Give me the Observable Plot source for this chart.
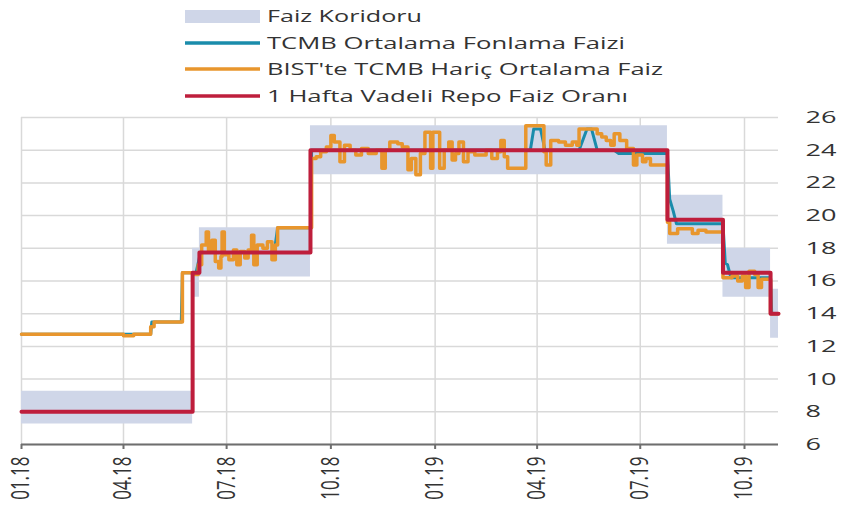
<!DOCTYPE html>
<html><head><meta charset="utf-8">
<script src="https://cdn.jsdelivr.net/npm/d3@7"></script>
<script src="https://cdn.jsdelivr.net/npm/@observablehq/plot@0.6"></script>
<style>
body{margin:0;background:#fff;font-family:"Open Sans",sans-serif;}
svg{display:block}
#chart{position:relative;width:842px;height:506px;}
#plotwrap{position:absolute;left:0;top:90px;}
#legendwrap{position:absolute;left:0;top:0;}
</style></head><body>
<div id="chart"><div id="plotwrap"></div><div id="legendwrap"></div></div>
<script>
// ---- data ----
const seriesNames = ["Faiz Koridoru","TCMB Ortalama Fonlama Faizi","BIST'te TCMB Hariç Ortalama Faiz","1 Hafta Vadeli Repo Faiz Oranı"];
const yTicks = [6,8,10,12,14,16,18,20,22,24,26];
const quarterTicks = ["2018-01-01","2018-04-01","2018-07-01","2018-10-01","2019-01-01","2019-04-01","2019-07-01","2019-10-01"];

const corridorDates = ["2018-01-01","2018-06-01","2018-06-07","2018-09-13","2019-07-25","2019-09-12","2019-10-24","2019-10-31"];
const corridorLow   = [7.25, 15, 16.25, 22.5, 18.25, 15, 12.5, 12.5];
const corridorHigh  = [9.25, 18, 19.25, 25.5, 21.25, 18, 15.5, 15.5];

const repoDates = ["2018-01-01","2018-06-01","2018-06-07","2018-09-13","2019-07-25","2019-09-12","2019-10-24","2019-10-31"];
const repoRates = [8, 16.5, 17.75, 24, 19.75, 16.5, 14, 14];

const tcmbDates = ["2018-01-01","2018-04-25","2018-04-26","2018-05-22","2018-05-23","2018-06-04","2018-06-08","2018-08-12","2018-08-15","2018-09-13","2018-09-14","2019-03-26","2019-03-29","2019-04-04","2019-04-08","2019-05-08","2019-05-15","2019-05-19","2019-05-24","2019-06-08","2019-06-12","2019-07-25","2019-07-27","2019-07-30","2019-08-02","2019-09-12","2019-09-14","2019-09-16","2019-09-19","2019-10-24","2019-10-25","2019-10-31"];
const tcmbRates = [12.75,12.75,13.5,13.5,16.5,16.5,17.75,17.75,19.25,19.25,24,24,25.3,25.3,24,24,25.3,25.3,24,24,23.8,23.8,21,20.3,19.5,19.5,17.1,17.0,16.2,16.2,14,14];

const bistDates2018 = ["2018-01-01","2018-03-25","2018-04-01","2018-04-10","2018-04-25","2018-04-28","2018-05-03","2018-05-23","2018-06-03","2018-06-06","2018-06-09","2018-06-13","2018-06-15","2018-06-18","2018-06-21","2018-06-24","2018-06-26","2018-06-27","2018-06-29","2018-07-03","2018-07-07","2018-07-10","2018-07-13","2018-07-17","2018-07-20","2018-07-23","2018-07-25","2018-07-28","2018-08-02","2018-08-06","2018-08-10","2018-08-13","2018-08-15","2018-09-14","2018-09-18","2018-09-22","2018-09-27","2018-10-01","2018-10-04","2018-10-09","2018-10-13","2018-10-18","2018-10-23","2018-10-28","2018-11-03","2018-11-10","2018-11-15","2018-11-18","2018-11-22","2018-11-29","2018-12-03","2018-12-08","2018-12-11","2018-12-15","2018-12-19","2018-12-23","2018-12-28","2018-12-30"];
const bistRates2018 = [12.75,12.75,12.65,12.75,13.2,13.5,13.5,16.5,16.4,17.0,18.2,19.0,17.8,18.5,17.2,16.8,17.5,19.0,17.6,17.3,17.9,17.0,17.8,17.4,17.9,18.8,17.0,18.2,18.0,18.4,17.3,18.2,19.25,23.5,23.6,23.9,24.2,24.9,24.5,23.3,24.3,24.0,23.7,24.1,23.8,24.0,22.9,24.0,24.5,24.4,24.2,22.8,23.5,22.5,23.8,25.1,22.9,25.1];

const bistDates2019 = ["2019-01-05","2019-01-09","2019-01-13","2019-01-16","2019-01-19","2019-01-22","2019-01-26","2019-01-30","2019-02-05","2019-02-15","2019-02-20","2019-02-25","2019-02-28","2019-03-03","2019-03-06","2019-03-22","2019-04-07","2019-04-09","2019-04-13","2019-04-20","2019-04-26","2019-05-02","2019-05-06","2019-05-08","2019-05-24","2019-05-28","2019-06-01","2019-06-05","2019-06-08","2019-06-13","2019-06-19","2019-06-25","2019-06-28","2019-07-03","2019-07-06","2019-07-10","2019-07-25","2019-07-27","2019-08-03","2019-08-16","2019-08-21","2019-08-28","2019-09-12","2019-09-20","2019-09-25","2019-09-29","2019-10-02","2019-10-05","2019-10-10","2019-10-13","2019-10-16","2019-10-24","2019-10-31"];
const bistRates2019 = [22.9,24.0,24.5,23.4,23.8,24.5,23.3,23.9,23.7,24.0,23.5,23.9,24.6,23.6,22.9,25.5,23.9,23.1,24.6,24.5,24.3,24.5,24.3,25.3,25.0,24.8,24.6,24.3,25.0,24.6,24.1,23.1,23.7,23.3,23.5,23.1,19.6,18.9,19.2,18.9,19.1,19.0,16.2,16.3,16.0,16.3,15.6,16.6,16.4,15.6,16.1,14.0,14.0];

// ---- colors ----
const colBand = "#cfd6e8", colTeal = "#1a8cab", colOrange = "#e8962d", colRed = "#be1e3c";

const D = s => new Date(s);
const corridor = corridorDates.map((d,i)=>({date:D(d), low:corridorLow[i], high:corridorHigh[i]}));
const repo = repoDates.map((d,i)=>({date:D(d), v:repoRates[i]}));
const tcmb = tcmbDates.map((d,i)=>({date:D(d), v:tcmbRates[i]}));
const bist = bistDates2018.map((d,i)=>({date:D(d), v:bistRates2018[i]}))
  .concat(bistDates2019.map((d,i)=>({date:D(d), v:bistRates2019[i]})));
const quarters = quarterTicks.map(D);

// ---- chart ----
const plot = Plot.plot({
  width: 842, height: 416,
  marginLeft: 21, marginRight: 64, marginTop: 27, marginBottom: 62,
  x: {type: "utc", domain: [D("2018-01-01"), D("2019-10-31")]},
  y: {domain: [6, 26]},
  style: {fontFamily: "'Open Sans', sans-serif", fontSize: "17px", color: "#333", background: "transparent"},
  marks: [
    Plot.gridY(yTicks, {stroke: "#d9d9d9", strokeWidth: 1.5, strokeOpacity: 1}),
    Plot.gridX(quarters, {stroke: "#d9d9d9", strokeWidth: 1.5, strokeOpacity: 1}),
    Plot.areaY(corridor, {x: "date", y1: "low", y2: "high", curve: "step-after", fill: colBand}),
    Plot.ruleY([6], {stroke: "#6e6e6e", strokeWidth: 2}),
    Plot.axisX(quarters, {tickFormat: d3.utcFormat("%m.%y"), tickRotate: -90, tickSize: 5, tickPadding: 7,
      stroke: "#6e6e6e", strokeWidth: 2, label: null, fontSize: 17}),
    Plot.axisY(yTicks, {anchor: "right", tickSize: 0, tickPadding: 27, label: null, fontSize: 17}),
    Plot.line(tcmb, {x: "date", y: "v", stroke: colTeal, strokeWidth: 3}),
    Plot.line(bist, {x: "date", y: "v", stroke: colOrange, strokeWidth: 3.5, curve: "step-after"}),
    Plot.line(repo, {x: "date", y: "v", stroke: colRed, strokeWidth: 4, curve: "step-after"})
  ]
});
document.getElementById("plotwrap").appendChild(plot);

// widen tick labels to match the stretched look of the reference
const ps = d3.select(plot);
ps.selectAll('g[aria-label="x-axis tick label"] text').each(function(){
  const t = this.getAttribute("transform") || "";
  this.setAttribute("transform", t + " scale(1,1.45)");
});
ps.selectAll('g[aria-label="y-axis tick label"] text').each(function(){
  this.setAttribute("textLength", this.textContent.length * 15.5);
  this.setAttribute("lengthAdjust", "spacingAndGlyphs");
});

// ---- legend (above the chart) ----
const legendWidths = [155, 358, 396, 361];
const legendRows = [16, 43, 69, 96];
const lsvg = d3.create("svg").attr("width", 842).attr("height", 110)
  .style("font-family", "'Open Sans', sans-serif");
lsvg.append("rect").attr("x",185).attr("y",10).attr("width",75).attr("height",13).attr("fill",colBand);
[colTeal, colOrange, colRed].forEach((c,i)=>{
  lsvg.append("line").attr("x1",185).attr("x2",260).attr("y1",legendRows[i+1]).attr("y2",legendRows[i+1])
    .attr("stroke",c).attr("stroke-width",3.5);
});
seriesNames.forEach((n,i)=>{
  lsvg.append("text").attr("x",267).attr("y",legendRows[i]).attr("dy","0.36em")
    .attr("font-size",15.5).attr("fill","#333")
    .attr("textLength",legendWidths[i]).attr("lengthAdjust","spacingAndGlyphs").text(n);
});
document.getElementById("legendwrap").appendChild(lsvg.node());
</script>
</body></html>
